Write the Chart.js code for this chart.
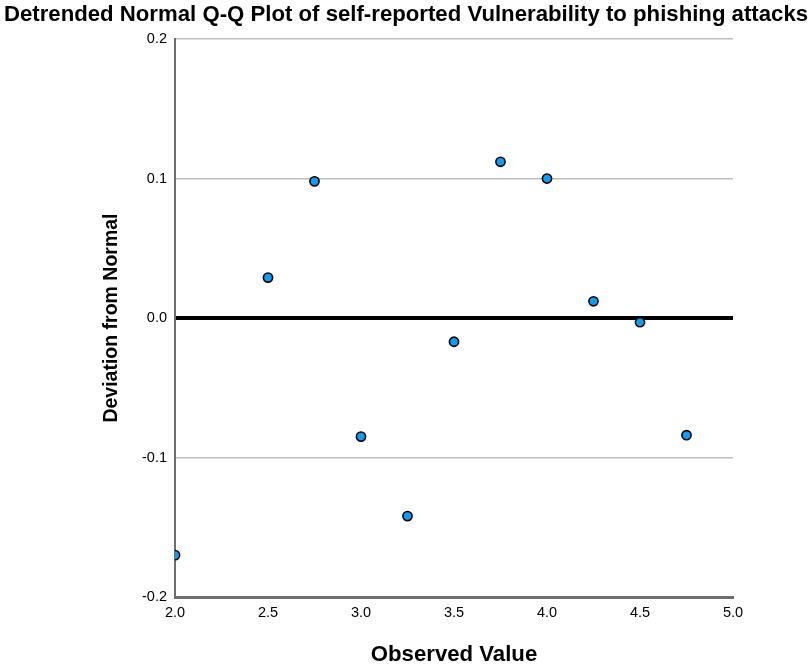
<!DOCTYPE html>
<html>
<head>
<meta charset="utf-8">
<script src="https://cdn.jsdelivr.net/npm/chart.js@4"></script>
<style>
  html, body { margin: 0; padding: 0; background: #fff; }
  #wrap { width: 812px; height: 666px; }
</style>
</head>
<body>
<div id="wrap"><canvas id="c" width="812" height="666"></canvas></div>
<script>
const observedValues = [2.0, 2.5, 2.75, 3.0, 3.25, 3.5, 3.75, 4.0, 4.25, 4.5, 4.75];
const deviations = [-0.170, 0.029, 0.098, -0.085, -0.142, -0.017, 0.112, 0.100, 0.012, -0.003, -0.084];
const xTickLabels = ['2.0', '2.5', '3.0', '3.5', '4.0', '4.5', '5.0'];
const yTickLabels = ['-0.2', '-0.1', '0.0', '0.1', '0.2'];
const chartTitle = 'Detrended Normal Q-Q Plot of self-reported Vulnerability to phishing attacks';
const xTitle = 'Observed Value';
const yTitle = 'Deviation from Normal';

const FONT = "'Liberation Sans', Arial, sans-serif";
const points = observedValues.map((x, i) => ({ x: x, y: deviations[i] }));

new Chart(document.getElementById('c'), {
  type: 'scatter',
  data: {
    datasets: [{
      data: points,
      backgroundColor: '#0f9cf5',
      borderColor: '#000000',
      borderWidth: 1.6,
      pointRadius: 4.6,
      pointHoverRadius: 4.6,
      clip: { left: 0, top: false, right: false, bottom: false }
    }]
  },
  options: {
    responsive: false,
    animation: false,
    devicePixelRatio: 1,
    layout: { padding: { left: 0, right: 0, top: 0, bottom: 0 } },
    plugins: {
      legend: { display: false },
      tooltip: { enabled: false },
      title: {
        display: true,
        text: chartTitle,
        color: '#000',
        font: { family: FONT, size: 22.2, weight: 'bold', lineHeight: 1.2 },
        padding: { top: 2, bottom: 10.4 }
      }
    },
    scales: {
      x: {
        type: 'linear',
        min: 2.0,
        max: 5.0,
        afterFit: s => { s.height = 69; },
        ticks: {
          stepSize: 0.5,
          color: '#000',
          padding: 7,
          maxRotation: 0,
          font: { family: FONT, size: 14.5 },
          callback: (v) => {
            const i = Math.round((v - 2.0) / 0.5);
            return xTickLabels[i] !== undefined ? xTickLabels[i] : '';
          }
        },
        grid: { display: false, drawTicks: false },
        border: { display: true, color: '#6e6e6e', width: 3 },
        title: {
          display: true,
          text: xTitle,
          color: '#000',
          font: { family: FONT, size: 22.2, weight: 'bold', lineHeight: 1.0 },
          padding: { top: 0, bottom: 0 }
        }
      },
      y: {
        type: 'linear',
        min: -0.2,
        max: 0.2,
        afterFit: s => { s.width = 175; },
        ticks: {
          stepSize: 0.1,
          color: '#000',
          padding: 8,
          font: { family: FONT, size: 14.5 },
          callback: (v) => {
            const i = Math.round((v + 0.2) / 0.1);
            return yTickLabels[i] !== undefined ? yTickLabels[i] : '';
          }
        },
        grid: {
          drawTicks: false,
          color: ctx => {
            const v = ctx.tick ? Math.round(ctx.tick.value * 10) : 99;
            if (v === 0) return '#000000';
            if (v === -2) return 'rgba(0,0,0,0)';
            return '#bdbdbd';
          },
          lineWidth: ctx => {
            const v = ctx.tick ? Math.round(ctx.tick.value * 10) : 99;
            return v === 0 ? 4 : 1.5;
          }
        },
        border: { display: true, color: '#6e6e6e', width: 2 },
        title: {
          display: true,
          text: yTitle,
          color: '#000',
          font: { family: FONT, size: 19.5, weight: 'bold', lineHeight: 1.2 },
          padding: { top: 100, bottom: 0 }
        }
      },
      ySpacer: {
        type: 'linear',
        position: 'right',
        min: -0.2,
        max: 0.2,
        afterFit: s => { s.width = 79; },
        ticks: { display: false },
        grid: { display: false, drawTicks: false },
        border: { display: false }
      }
    }
  }
});
</script>
</body>
</html>
